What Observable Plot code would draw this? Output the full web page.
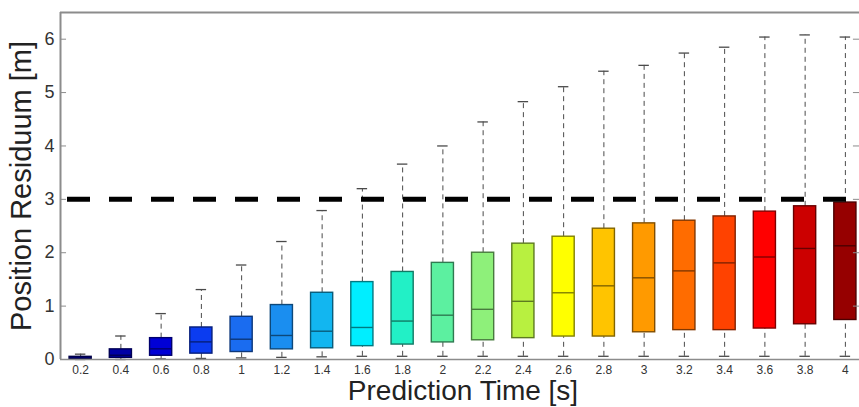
<!DOCTYPE html>
<html><head><meta charset="utf-8">
<script src="https://cdn.jsdelivr.net/npm/d3@7"></script>
<script src="https://cdn.jsdelivr.net/npm/@observablehq/plot@0.6"></script>
<style>
body{margin:0;background:#fff;font-family:"Liberation Sans",Arial,sans-serif;}
#chart svg{overflow:hidden}
</style>
</head><body><div id="chart"></div>
<script>
// ---- data ----
const times = [0.2,0.4,0.6,0.8,1.0,1.2,1.4,1.6,1.8,2.0,2.2,2.4,2.6,2.8,3.0,3.2,3.4,3.6,3.8,4.0];
const timeLabels = ["0.2","0.4","0.6","0.8","1","1.2","1.4","1.6","1.8","2","2.2","2.4","2.6","2.8","3","3.2","3.4","3.6","3.8","4"];
const whiskerLow  = [0.00,0.00,0.01,0.02,0.03,0.04,0.05,0.06,0.06,0.06,0.06,0.06,0.06,0.06,0.06,0.06,0.06,0.06,0.06,0.06];
const q1          = [0.01,0.03,0.07,0.11,0.14,0.19,0.21,0.25,0.28,0.32,0.36,0.40,0.43,0.43,0.51,0.55,0.55,0.58,0.66,0.74];
const median      = [0.02,0.08,0.20,0.33,0.38,0.45,0.53,0.60,0.72,0.83,0.94,1.09,1.25,1.38,1.53,1.66,1.81,1.92,2.08,2.13];
const q3          = [0.05,0.19,0.40,0.60,0.80,1.02,1.25,1.45,1.64,1.81,2.00,2.17,2.30,2.45,2.55,2.60,2.68,2.77,2.87,2.94];
const whiskerHigh = [0.10,0.44,0.86,1.31,1.77,2.21,2.79,3.20,3.66,4.00,4.45,4.83,5.11,5.40,5.51,5.74,5.85,6.04,6.08,6.04];
const threshold = [3];
const yTicks = [0,1,2,3,4,5,6];
const yTickLabels = ["0","1","2","3","4","5","6"];
const boxColors = ["#00008c","#0000a6","#0000d6","#0b3cf0","#1a6cf0","#1a8ef0","#12b6f0","#00eeff","#22f0c6","#5cf0a0","#8ef07a","#b8f040","#ffff00","#ffc400","#ff9a00","#ff6c00","#ff4200","#ff0000","#cc0000","#960000"];

const rows = times.map((t, i) => ({
  t, lo: whiskerLow[i], q1: q1[i], med: median[i], q3: q3[i], hi: whiskerHigh[i],
  fill: boxColors[i], edge: d3.color(boxColors[i]).darker(1.9).formatHex()
}));

const gray = "#8c8c8c";
const halfBox = 0.055, halfCap = 0.026;

const chart = Plot.plot({
  width: 859,
  height: 407,
  marginLeft: 60,
  marginRight: 0,
  marginTop: 12,
  marginBottom: 48,
  style: {fontFamily: '"Liberation Sans", Arial, sans-serif', background: "#fff"},
  x: {type: "linear", domain: [0.1, 4.1], range: [60, 865]},
  y: {domain: [0, 6.5]},
  color: {type: "identity"},
  marks: [
    // whiskers
    Plot.ruleX(rows, {x: "t", y1: "q3", y2: "hi", stroke: "#4a4a4a", strokeWidth: 1, strokeDasharray: "5,4"}),
    Plot.ruleX(rows, {x: "t", y1: "lo", y2: "q1", stroke: "#4a4a4a", strokeWidth: 1, strokeDasharray: "5,4"}),
    Plot.ruleY(rows, {y: "hi", x1: d => d.t - halfCap, x2: d => d.t + halfCap, stroke: "#4a4a4a", strokeWidth: 1.3}),
    Plot.ruleY(rows, {y: "lo", x1: d => d.t - halfCap, x2: d => d.t + halfCap, stroke: "#4a4a4a", strokeWidth: 1.3}),
    // boxes
    Plot.rect(rows, {x1: d => d.t - halfBox, x2: d => d.t + halfBox, y1: "q1", y2: "q3", fill: "fill", stroke: "edge", strokeWidth: 1.4}),
    Plot.ruleY(rows, {y: "med", x1: d => d.t - halfBox, x2: d => d.t + halfBox, stroke: "edge", strokeWidth: 1.4}),
    // threshold
    Plot.ruleY(threshold, {x1: 0.1, x2: 4.1, stroke: "black", strokeWidth: 5, strokeDasharray: "23,19", strokeDashoffset: 35}),
    // frame lines
    Plot.ruleY([6.5], {stroke: gray, strokeWidth: 2}),
    Plot.ruleY([0], {stroke: gray, strokeWidth: 1.5}),
    Plot.ruleX([0.1], {stroke: gray, strokeWidth: 2}),
    // inward tick marks
    Plot.ruleY(yTicks, {x1: 0.1, x2: 0.13, stroke: gray, strokeWidth: 1}),
    Plot.ruleY(yTicks.filter(d => d > 0), {x1: 4.04, x2: 4.1, stroke: gray, strokeWidth: 1}),
    // axes
    Plot.axisY({ticks: yTicks, tickSize: 0, tickPadding: 6, fontSize: 18, color: "#333", label: null,
      tickFormat: d => yTickLabels[yTicks.indexOf(d)]}),
    Plot.axisX({ticks: times, tickSize: 0, tickPadding: 6, fontSize: 12, color: "#333", label: null,
      tickFormat: d => timeLabels[times.indexOf(d)]}),
    // axis titles
    Plot.text(["Prediction Time [s]"], {frameAnchor: "bottom", dy: 32, dx: 3, textAnchor: "middle", lineAnchor: "middle", fontSize: 28, fill: "#222"}),
    Plot.text(["Position Residuum [m]"], {frameAnchor: "left", dx: -39, rotate: -90, textAnchor: "middle", lineAnchor: "middle", fontSize: 29, fill: "#222"})
  ]
});
document.getElementById("chart").appendChild(chart);
</script>
</body></html>
